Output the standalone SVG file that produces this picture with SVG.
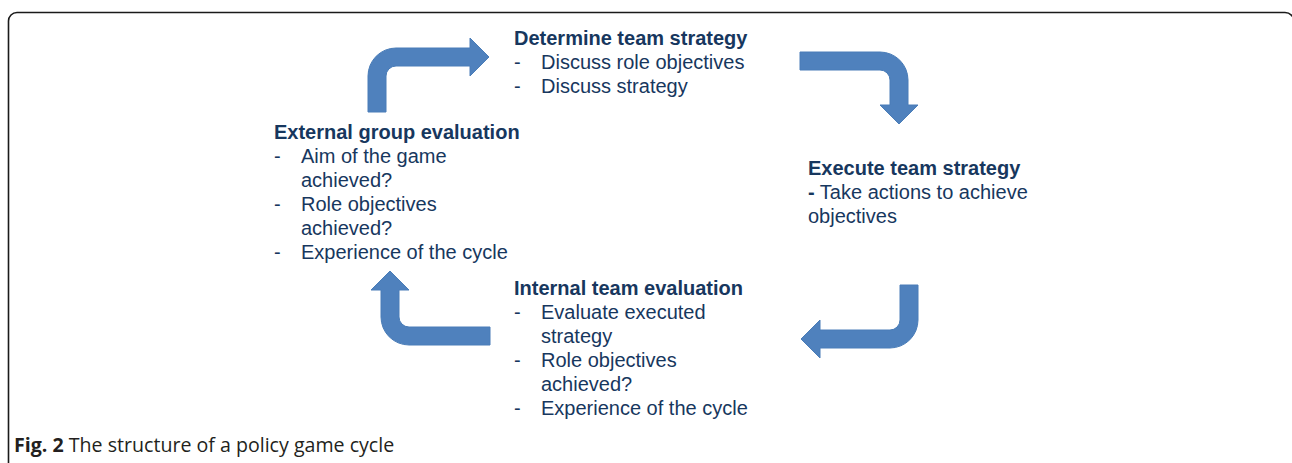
<svg xmlns="http://www.w3.org/2000/svg" width="1292" height="463" viewBox="0 0 1292 463">
<style>
.frame{fill:none;stroke:#1a1a1a;stroke-width:1.6}
.arrow{fill:#4F81BD;stroke:#4A7DB8;stroke-width:1}
text{font-family:"Liberation Sans",Arial,sans-serif;font-size:20px;fill:#17375E}
.h{font-weight:bold}
.cap{font-family:"Open Sans","Noto Sans",sans-serif;font-size:19.6px;fill:#231f20}
</style>
<path class="frame" d="M8.5,463 V21 A8.5,8.5 0 0 1 17,12.5 H1285 A9,9 0 0 1 1294,21.5 V463"/>
<g id="connectors">
<path class="arrow" d="M368,112 V76 A28,28 0 0 1 396,48 H470 V38 L489,57 L470,76 V66 H396 A10,10 0 0 0 386,76 V112 Z"/>
<path class="arrow" d="M800,52 H880 A28,28 0 0 1 908,80 V105 H918 L899,124 L880,105 H890 V80 A10,10 0 0 0 880,70 H800 Z"/>
<path class="arrow" d="M918,285 V320 A28,28 0 0 1 890,348 H820 V358 L801,339 L820,320 V330 H890 A10,10 0 0 0 900,320 V285 Z"/>
<path class="arrow" d="M490,345 H409 A28,28 0 0 1 381,317 V290 H371 L390,271 L409,290 H399 V317 A10,10 0 0 0 409,327 H490 Z"/>
</g>
<g id="determine">
<text class="h" x="514" y="45">Determine team strategy</text>
<text x="514" y="69">-</text><text x="541" y="69">Discuss role objectives</text>
<text x="514" y="93">-</text><text x="541" y="93">Discuss strategy</text>
</g>
<g id="execute">
<text class="h" x="808" y="175">Execute team strategy</text>
<text x="808" y="199"><tspan class="h">-</tspan> Take actions to achieve</text>
<text x="808" y="223">objectives</text>
</g>
<g id="internal">
<text class="h" x="514" y="295">Internal team evaluation</text>
<text x="514" y="319">-</text><text x="541" y="319">Evaluate executed</text>
<text x="541" y="343">strategy</text>
<text x="514" y="367">-</text><text x="541" y="367">Role objectives</text>
<text x="541" y="391">achieved?</text>
<text x="514" y="415">-</text><text x="541" y="415">Experience of the cycle</text>
</g>
<g id="external">
<text class="h" x="274" y="139">External group evaluation</text>
<text x="274" y="163">-</text><text x="301" y="163">Aim of the game</text>
<text x="301" y="187">achieved?</text>
<text x="274" y="211">-</text><text x="301" y="211">Role objectives</text>
<text x="301" y="235">achieved?</text>
<text x="274" y="259">-</text><text x="301" y="259">Experience of the cycle</text>
</g>
<g id="caption">
<text class="cap" x="14" y="452"><tspan font-weight="bold">Fig. 2</tspan> The structure of a policy game cycle</text>
</g>
</svg>
